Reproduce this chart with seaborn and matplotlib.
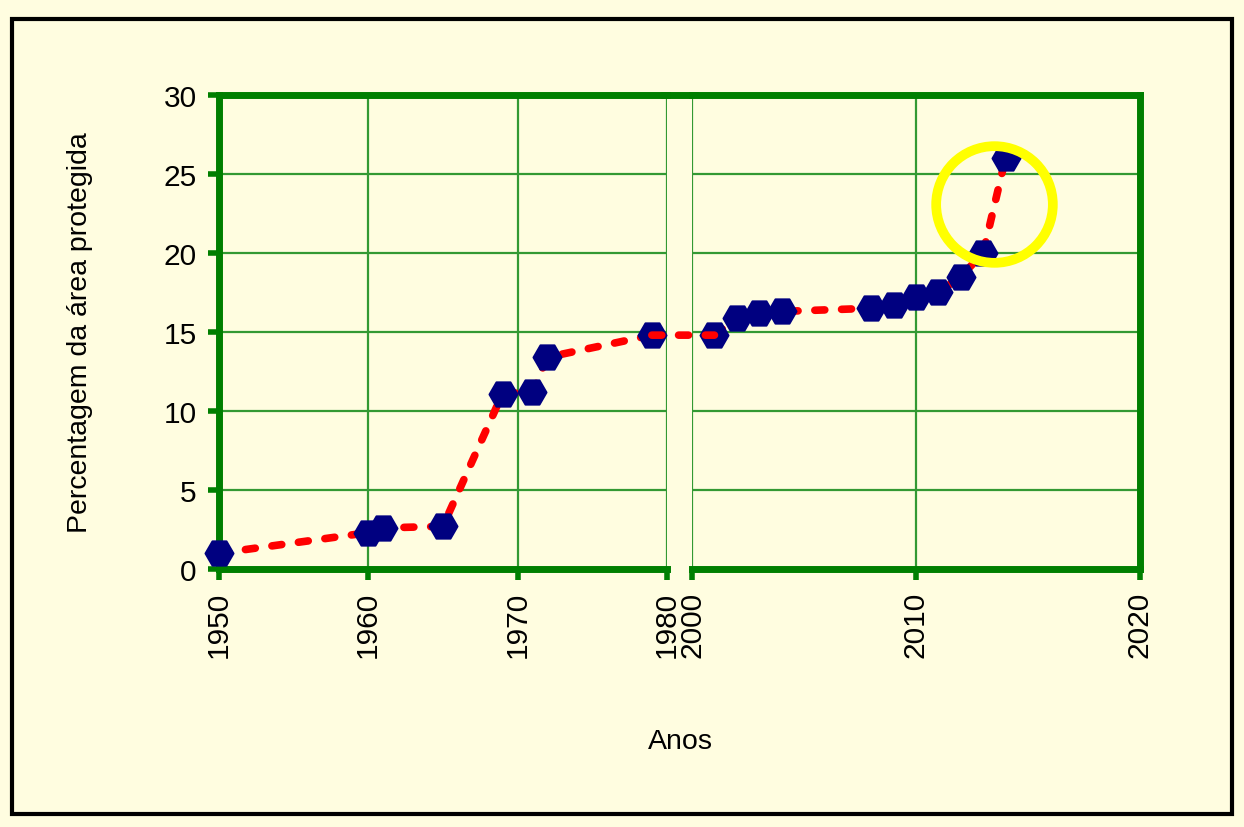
import matplotlib
matplotlib.use("Agg")
import matplotlib.pyplot as plt
import seaborn as sns
from matplotlib.patches import ConnectionPatch, Rectangle

# dados (eixo x quebrado: 1950-1980 e 2000-2020)
anos_1 = [1950, 1960, 1961, 1965, 1969, 1971, 1972, 1979]
perc_1 = [1.0, 2.3, 2.6, 2.7, 11.1, 11.2, 13.4, 14.8]
anos_2 = [2001, 2002, 2003, 2004, 2008, 2009, 2010, 2011, 2012, 2013, 2014]
perc_2 = [14.8, 15.9, 16.2, 16.3, 16.5, 16.7, 17.2, 17.5, 18.5, 20.0, 26.0]

ticks_1 = [1950, 1960, 1970, 1980]
ticks_2 = [2000, 2010, 2020]
yticks = [0, 5, 10, 15, 20, 25, 30]

# destaque (círculo amarelo)
destaque_x = 2013.5
destaque_y = 23.1

sns.set_style("white")
plt.rcParams["font.family"] = ["Liberation Sans", "DejaVu Sans"]
plt.rcParams["text.color"] = "black"
plt.rcParams["xtick.labelcolor"] = "black"
plt.rcParams["ytick.labelcolor"] = "black"

fundo = "#FFFDE0"
verde = "#007F00"
verde_grade = "#339933"
tracejado = (0, (1.3, 2.2))

fig = plt.figure(figsize=(12.44, 8.28), dpi=100)
fig.patch.set_facecolor(fundo)
ax1 = fig.add_axes([0.176, 0.3116, 0.360, 0.5725])
ax2 = fig.add_axes([0.5563, 0.3116, 0.360, 0.5725])

linha = dict(color="red", linewidth=5.5, linestyle=tracejado,
             solid_capstyle="round", dash_capstyle="round", zorder=3)

for ax, xs, ys, xt, lim in [(ax1, anos_1, perc_1, ticks_1, (1950, 1980)),
                            (ax2, anos_2, perc_2, ticks_2, (2000, 2020))]:
    ax.set_facecolor(fundo)
    sns.lineplot(x=xs, y=ys, ax=ax, **linha)
    sns.scatterplot(x=xs, y=ys, ax=ax, marker="H", s=400, color="#000080",
                    edgecolor="#000080", zorder=4, clip_on=False)
    ax.set_xlim(lim)
    ax.set_ylim(0, 30)
    ax.set_xticks(xt)
    ax.set_yticks(yticks)
    ax.grid(True, color=verde_grade, linewidth=1.6, zorder=0)
    ax.set_axisbelow(True)
    ax.tick_params(axis="x", direction="out", length=8, width=4, color=verde,
                   labelsize=21.5, labelrotation=90, pad=8, bottom=True)
    for s in ax.spines.values():
        s.set_color(verde)
        s.set_linewidth(5)

ax1.spines["right"].set_visible(False)
ax2.spines["left"].set_visible(False)
ax1.tick_params(axis="y", direction="out", length=8, width=4, color=verde,
                labelsize=21.5, pad=8, left=True)
ax2.tick_params(axis="y", left=False, labelleft=False)

# linha de ligação entre as duas partes do eixo
ligacao = ConnectionPatch(xyA=(anos_1[-1], perc_1[-1]), coordsA=ax1.transData,
                          xyB=(anos_2[0], perc_2[0]), coordsB=ax2.transData,
                          color="red", linewidth=5.5, linestyle=tracejado,
                          capstyle="round", zorder=3)
fig.add_artist(ligacao)

# borda superior contínua sobre a quebra
p1 = ax1.get_position()
p2 = ax2.get_position()
fim = 1 + (p2.x0 - p1.x1) / p1.width
ax1.plot([0.99, fim + 0.01], [1, 1], transform=ax1.transAxes, color=verde,
         linewidth=5, clip_on=False, zorder=5)

# círculo de destaque
ax2.plot([destaque_x], [destaque_y], marker="o", markersize=84,
         markerfacecolor="none", markeredgecolor="#FFFF00",
         markeredgewidth=7, zorder=5, clip_on=False)

fig.text(0.547, 0.104, "Anos", fontsize=20.5, ha="center", va="center")
fig.text(0.064, 0.598, "Percentagem da área protegida", fontsize=20.5,
         rotation=90, ha="center", va="center")

fig.add_artist(Rectangle((0.0096, 0.0157), 0.9807, 0.960, fill=False,
                         edgecolor="black", linewidth=3,
                         transform=fig.transFigure))

fig.savefig("out.png", dpi=100, facecolor=fundo)
